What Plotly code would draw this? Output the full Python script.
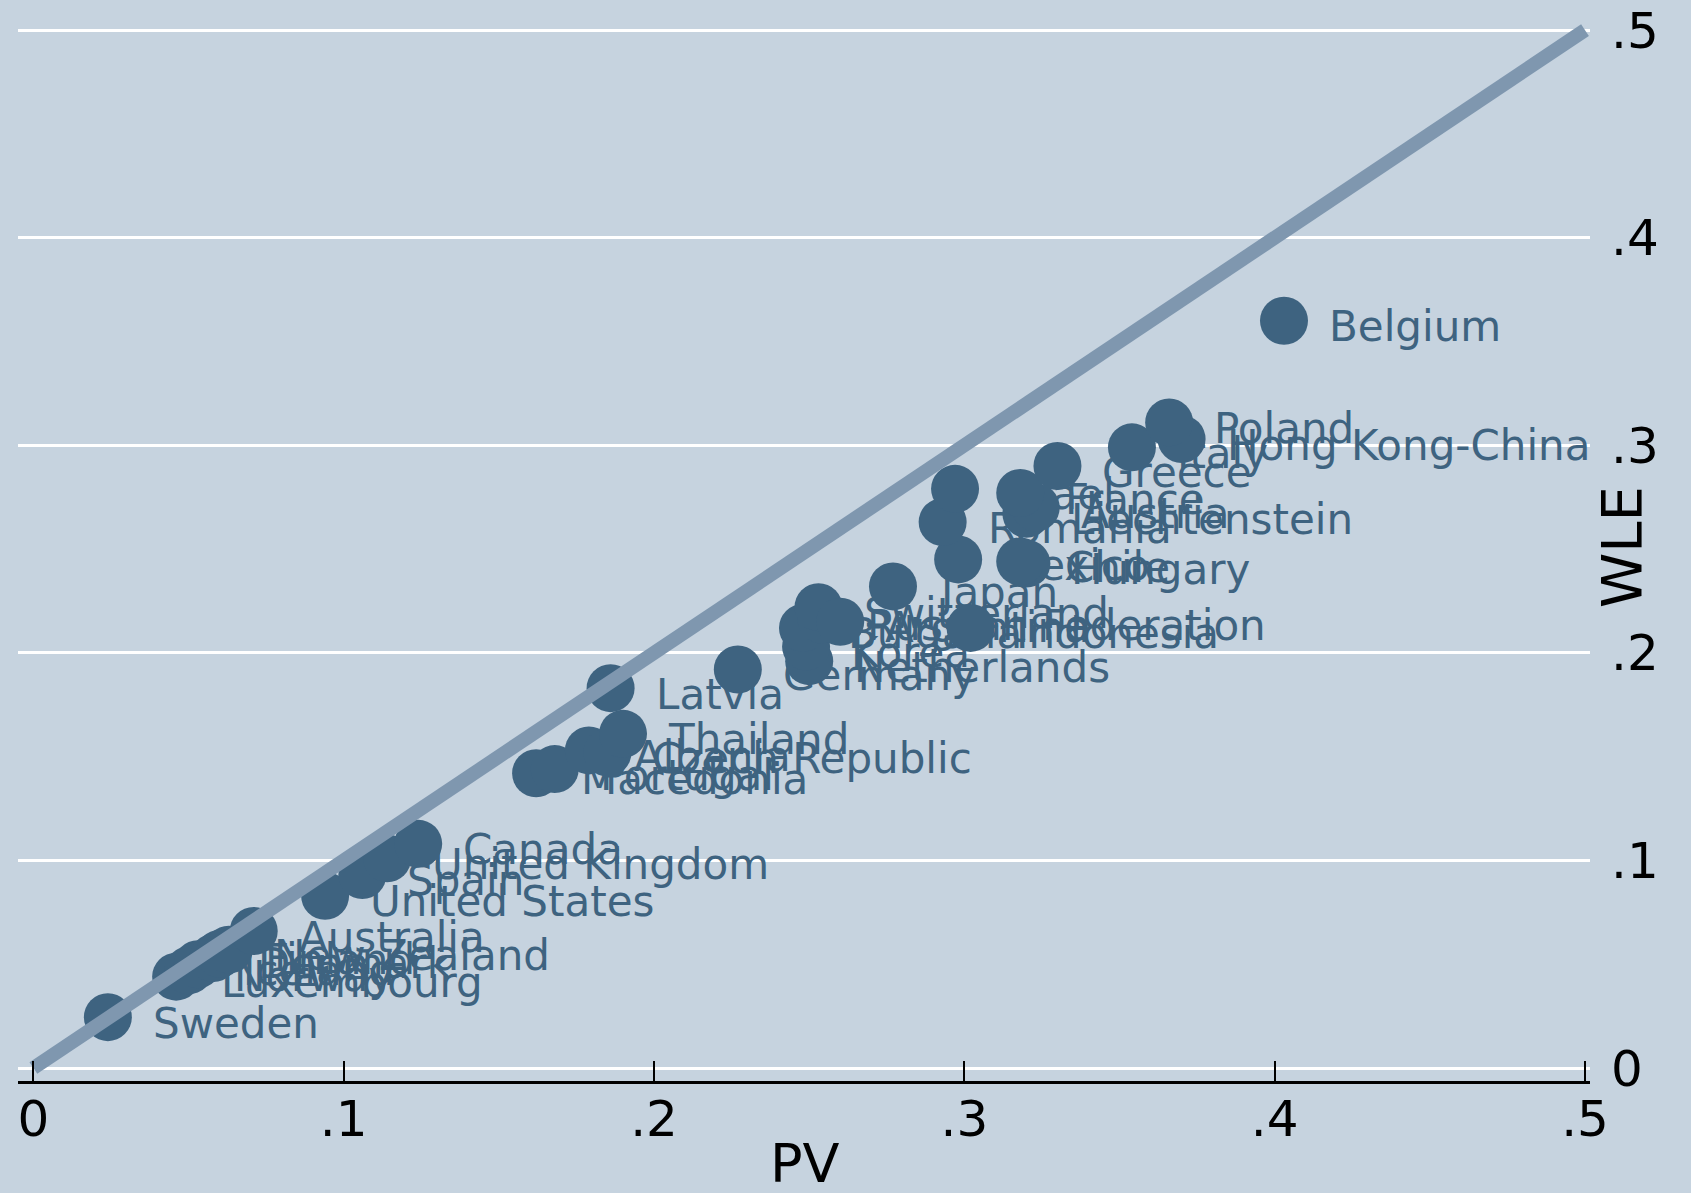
import plotly.graph_objects as go

countries = ["Sweden", "Luxembourg", "Norway", "Iceland", "Denmark", "Finland", "New Zealand",
             "Australia", "United States", "Spain", "United Kingdom", "Canada", "Macedonia",
             "Portugal", "Albania", "Czech Republic", "Thailand", "Latvia", "Germany",
             "Netherlands", "Korea", "Bulgaria", "Russian Federation", "Switzerland",
             "Argentina", "Indonesia", "Japan", "Mexico", "Hungary", "Chile", "Romania",
             "Liechtenstein", "Austria", "Israel", "France", "Greece", "Italy",
             "Hong Kong-China", "Poland", "Belgium"]
pv = [0.024, 0.046, 0.050, 0.053, 0.058, 0.060, 0.063,
      0.071, 0.094, 0.106, 0.114, 0.124, 0.162,
      0.168, 0.179, 0.185, 0.190, 0.186, 0.227,
      0.250, 0.249, 0.248, 0.254, 0.253,
      0.260, 0.302, 0.277, 0.298, 0.320, 0.318, 0.293,
      0.320, 0.323, 0.297, 0.318, 0.330, 0.354,
      0.370, 0.366, 0.403]
wle = [0.0245, 0.044, 0.047, 0.050, 0.053, 0.055, 0.057,
       0.066, 0.083, 0.093, 0.101, 0.108, 0.142,
       0.144, 0.153, 0.152, 0.161, 0.183, 0.192,
       0.196, 0.203, 0.212, 0.216, 0.222,
       0.215, 0.212, 0.232, 0.245, 0.243, 0.244, 0.263,
       0.267, 0.270, 0.279, 0.277, 0.290, 0.299,
       0.303, 0.311, 0.360]
line_x = [0, 0.5]
line_y = [0, 0.5]
tick_vals = [0, 0.1, 0.2, 0.3, 0.4, 0.5]
tick_text = ["0", ".1", ".2", ".3", ".4", ".5"]

BG = "#C6D3DF"
MARK = "#3E6380"
LINE = "#7F97AF"

fig = go.Figure()
fig.add_trace(go.Scatter(x=pv, y=wle, mode="markers",
                         marker=dict(size=48, color=MARK, line=dict(width=0)),
                         hoverinfo="text", text=countries, showlegend=False))
fig.add_trace(go.Scatter(x=line_x, y=line_y, mode="lines",
                         line=dict(color=LINE, width=14), showlegend=False))

for c, xv, yv in zip(countries, pv, wle):
    fig.add_annotation(x=xv, y=yv, text=c, showarrow=False, xanchor="left", yanchor="middle",
                       xshift=43, yshift=-6,
                       font=dict(family="DejaVu Sans", size=42, color=MARK))

fig.add_annotation(xref="paper", yref="paper", x=1.0204, y=0.4986, text="WLE", textangle=-90,
                   showarrow=False, xanchor="center", yanchor="middle",
                   font=dict(family="DejaVu Sans", size=56, color="black"))
fig.add_annotation(xref="paper", yref="paper", x=0.5006, y=-0.0766, text="PV",
                   showarrow=False, xanchor="center", yanchor="middle",
                   font=dict(family="DejaVu Sans", size=54, color="black"))

fig.update_layout(
    width=1691, height=1193,
    margin=dict(l=18, r=101, t=10, b=112, autoexpand=False),
    paper_bgcolor=BG, plot_bgcolor=BG,
    showlegend=False,
    xaxis=dict(range=[-0.00496, 0.50161], tickvals=tick_vals, ticktext=tick_text,
               automargin=False,
               showgrid=False, zeroline=False, showline=True, linecolor="black", linewidth=2.5,
               ticks="inside", ticklen=20, tickwidth=1.5, tickcolor="black",
               ticklabelstandoff=-8,
               tickfont=dict(family="DejaVu Sans", size=50, color="black")),
    yaxis=dict(range=[-0.00626, 0.5097], tickvals=tick_vals, ticktext=tick_text, side="right",
               automargin=False,
               showgrid=True, gridcolor="white", gridwidth=3, zeroline=False, showline=False,
               ticks="", ticklabelstandoff=20,
               tickfont=dict(family="DejaVu Sans", size=50, color="black")),
)

fig.write_html("out.html", config={"displayModeBar": False},
               post_script="document.body.style.margin='0';document.body.style.background='%s';" % BG)
